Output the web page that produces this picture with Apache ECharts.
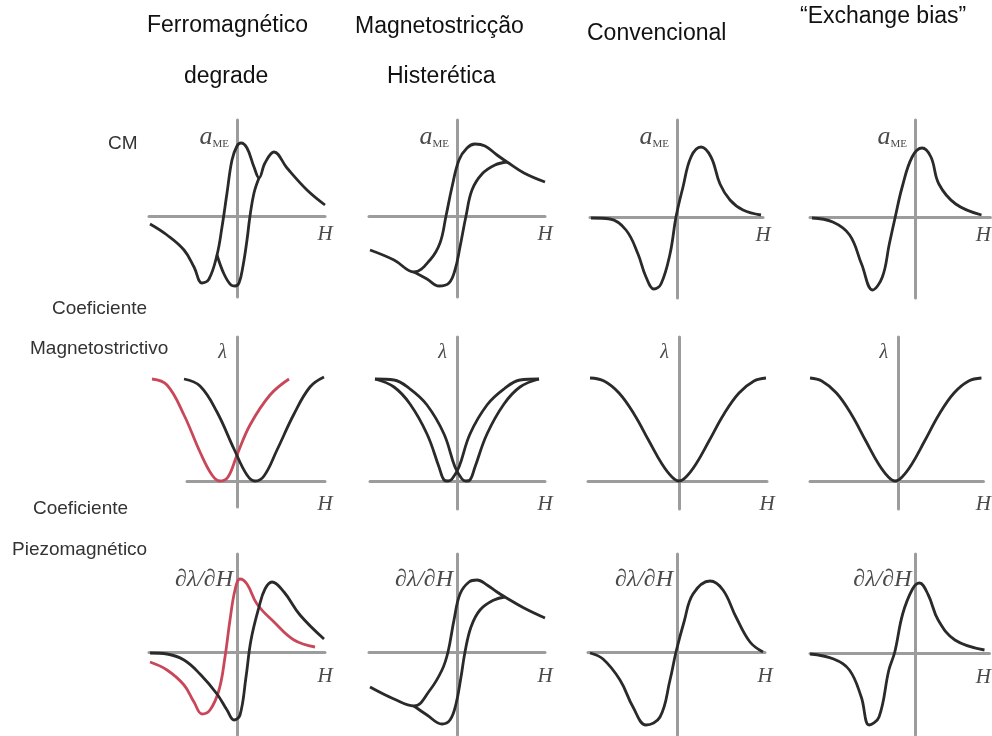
<!DOCTYPE html>
<html><head><meta charset="utf-8">
<script src="https://cdn.jsdelivr.net/npm/echarts@6/dist/echarts.min.js"></script>
<style>html,body{margin:0;background:#fff}#c{width:992px;height:736px}</style>
</head><body><div id="c"></div>
<script>
// ---------- text ----------
const colTitles = ['Ferromagnético', 'Magnetostricção', 'Convencional', '“Exchange bias”'];
const colSubtitles = ['degrade', 'Histerética'];
const rowLabels = ['CM', 'Coeficiente', 'Magnetostrictivo', 'Coeficiente', 'Piezomagnético'];
const rowAxisNames = ['aME', 'λ', '∂λ/∂H'];
const hAxisName = 'H';

// ---------- curves (H, response) ----------
// Row 1: CM coefficient a_ME
const cmFerroUpper = [[-87,-8],[-70,-19],[-53,-34],[-43,-51],[-35,-67],[-28,-63],[-20,-39],[-15,-11],[-10,23],[-5,56],[0,70],[4,73],[10,68],[17,49],[22,38],[28,53],[37,64],[50,48],[70,26],[88,11]];
const cmFerroLower = [[-20,-39],[-13,-58],[-6,-69],[-2,-70],[2,-67],[6,-50],[10,-24],[13,0],[17,23],[22,38]];
const cmHystUpper = [[-87,-34],[-63,-44],[-43,-56],[-27,-44],[-17,-27],[-11,0],[-5,29],[2,56],[10,68],[18,72],[28,70],[40,61],[50,54],[67,43],[88,34]];
const cmHystLower = [[-43,-56],[-30,-63],[-18,-70],[-8,-67],[-2,-54],[3,-31],[9,0],[15,26],[25,42],[38,51],[50,54]];
const cmConv = [[-86,-1],[-67,-2],[-51,-13],[-39,-37],[-31,-60],[-23,-72],[-16,-67],[-7,-37],[-1,0],[6,30],[14,60],[24,70],[34,60],[43,33],[53,17],[66,7],[84,2]];
const cmExch = [[-104,-1],[-83,-5],[-66,-18],[-54,-47],[-43,-73],[-33,-60],[-26,-27],[-20,0],[-13,30],[-3,60],[7,69],[16,60],[24,33],[41,13],[67,2]];
// Row 2: magnetostriction lambda
const lamFerroRed = [[-85,102],[-70,96],[-53,66],[-37,29],[-25,6],[-17,0],[-9,4],[0,26],[13,56],[33,86],[52,102]];
const lamFerroBlack = [[-53,102],[-37,95],[-20,69],[-3,32],[10,6],[18,0],[27,5],[40,31],[57,67],[73,94],[87,104]];
const lamHystA = [[-82,102],[-63,94],[-47,77],[-30,47],[-18,14],[-13,1],[-9,0],[-5,2],[2,14],[13,47],[30,76],[47,92],[63,101],[82,102]];
const lamHystB = [[-82,102],[-63,101],[-47,92],[-30,76],[-13,47],[-2,14],[5,2],[9,0],[13,1],[18,14],[30,47],[47,77],[63,94],[82,102]];
const lamConv = [[-89,103],[-75,100],[-60,88],[-45,67],[-30,40],[-17,17],[-7,4],[0,0],[7,4],[17,17],[30,40],[45,67],[60,88],[75,100],[87,103]];
const lamExch = [[-90,103],[-78,100],[-63,88],[-48,67],[-33,40],[-20,17],[-10,4],[-3,0],[4,4],[14,17],[27,40],[42,67],[57,88],[72,100],[85,103]];
// Row 3: piezomagnetic coefficient dλ/dH
const pzFerroRed = [[-87,-10],[-70,-18],[-53,-33],[-43,-50],[-35,-62],[-27,-58],[-18,-38],[-12,-5],[-7,32],[-2,62],[3,73],[10,68],[20,48],[37,30],[57,12],[78,5]];
const pzFerroBlack = [[-87,-1],[-70,-2],[-53,-8],[-37,-22],[-20,-42],[-10,-58],[-3,-68],[3,-63],[9,-25],[14,12],[22,45],[28,63],[35,70],[47,60],[63,37],[87,13]];
const pzHystUpper = [[-87,-35],[-63,-47],[-43,-54],[-27,-38],[-15,-18],[-9,0],[-3,32],[3,58],[12,70],[20,72],[30,67],[40,60],[48,55],[67,44],[88,34]];
const pzHystLower = [[-43,-54],[-30,-63],[-15,-72],[-7,-68],[-1,-52],[4,-25],[8,0],[14,25],[23,42],[37,52],[48,55]];
const pzConv = [[-87,-1],[-74,-7],[-57,-28],[-44,-55],[-31,-73],[-17,-65],[-7,-28],[-1,0],[7,30],[16,58],[33,71],[46,62],[59,35],[73,10],[86,0]];
const pzExch = [[-107,-1],[-83,-6],[-67,-17],[-55,-44],[-47,-72],[-37,-64],[-27,-17],[-21,1],[-13,39],[-3,64],[4,70],[13,58],[23,33],[40,13],[70,3]];

// ---------- style / layout ----------
const INK = '#2a2a2a', RED = '#c8485a', AXIS = '#9c9c9c', LABEL = '#4a4a4a';
const SERIF = '"Liberation Serif","DejaVu Serif",serif';
const SANS = '"Liberation Sans",Arial,sans-serif';

// o = pixel position of origin, xr/yr = axis ranges; cxr = wider range for curves (axis line shorter)
const panels = [
  {row:0, o:[237,216], xr:[-88,88], yr:[-81,96], hGap:0, curves:[[cmFerroUpper,INK],[cmFerroLower,INK]]},
  {row:0, o:[457,216], xr:[-88,88], yr:[-81,96], hGap:0, curves:[[cmHystUpper,INK],[cmHystLower,INK]]},
  {row:0, o:[677,217], xr:[-87,86], yr:[-81,97], hGap:0, curves:[[cmConv,INK]]},
  {row:0, o:[916,217], xr:[-106,76], yr:[-81,97], hGap:-7, curves:[[cmExch,INK]]},
  {row:1, o:[237,481], xr:[-50,88], cxr:[-90,90], yr:[-26,144], hGap:0, curves:[[lamFerroRed,RED],[lamFerroBlack,INK]]},
  {row:1, o:[457,481], xr:[-87,88], yr:[-28,144], hGap:0, curves:[[lamHystA,INK],[lamHystB,INK]]},
  {row:1, o:[679,481], xr:[-91,88], yr:[-28,144], hGap:0, curves:[[lamConv,INK]]},
  {row:1, o:[900,481], xr:[-90,87], yr:[-28,144], hGap:0, curves:[[lamExch,INK]]},
  {row:2, o:[237,652], xr:[-88,88], yr:[-83,98], hGap:0, curves:[[pzFerroRed,RED],[pzFerroBlack,INK]]},
  {row:2, o:[457,652], xr:[-88,88], yr:[-83,98], hGap:0, curves:[[pzHystUpper,INK],[pzHystLower,INK]]},
  {row:2, o:[677,652], xr:[-89,88], yr:[-83,98], hGap:0, curves:[[pzConv,INK]]},
  {row:2, o:[917,653], xr:[-107,75], yr:[-82,99], hGap:-6, curves:[[pzExch,INK]]}
];
const hPad = [8, 13, 14];
const yNameCfg = [
  {gap:-4, padR:8},
  {gap:-6, padR:10},
  {gap:-14, padR:4}
];

const grid = [], xAxis = [], yAxis = [], series = [];
const hidden = {axisLine:{show:false}, axisTick:{show:false}, axisLabel:{show:false}, splitLine:{show:false}};
panels.forEach((p) => {
  const gi = grid.length;
  grid.push({left: p.o[0] + p.xr[0], top: p.o[1] - p.yr[1], width: p.xr[1] - p.xr[0], height: p.yr[1] - p.yr[0]});
  xAxis.push({
    type:'value', gridIndex:gi, min:p.xr[0], max:p.xr[1],
    axisLine:{onZero:true, lineStyle:{color:AXIS, width:3}},
    axisTick:{show:false}, axisLabel:{show:false}, splitLine:{show:false},
    name:hAxisName, nameLocation:'end', nameGap:p.hGap,
    nameTextStyle:{fontFamily:SERIF, fontStyle:'italic', fontSize:21, color:LABEL, align:'center', verticalAlign:'top', padding:[hPad[p.row],0,0,0]}
  });
  const yc = yNameCfg[p.row];
  let yName, yStyle;
  if (p.row === 0) {
    yName = '{a|' + rowAxisNames[0].charAt(0) + '}{s|' + rowAxisNames[0].slice(1) + '}';
    yStyle = {align:'right', verticalAlign:'top', padding:[0, yc.padR, 0, 0],
      rich:{a:{fontFamily:SERIF, fontStyle:'italic', fontSize:26, color:LABEL, verticalAlign:'bottom', lineHeight:26},
            s:{fontFamily:SERIF, fontSize:11, color:LABEL, verticalAlign:'bottom', lineHeight:19}}};
  } else {
    yName = rowAxisNames[p.row];
    yStyle = {fontFamily:SERIF, fontStyle:'italic', fontSize: p.row === 1 ? 20 : 24, color:LABEL, align:'right', verticalAlign:'top', padding:[0, yc.padR, 0, 0]};
  }
  yAxis.push({
    type:'value', gridIndex:gi, min:p.yr[0], max:p.yr[1],
    axisLine:{onZero:true, lineStyle:{color:AXIS, width:3}},
    axisTick:{show:false}, axisLabel:{show:false}, splitLine:{show:false},
    name:yName, nameLocation:'end', nameGap:yc.gap, nameTextStyle:yStyle
  });
  let ci = gi;
  if (p.cxr) {
    ci = grid.length;
    grid.push({left: p.o[0] + p.cxr[0], top: p.o[1] - p.yr[1], width: p.cxr[1] - p.cxr[0], height: p.yr[1] - p.yr[0]});
    xAxis.push(Object.assign({type:'value', gridIndex:ci, min:p.cxr[0], max:p.cxr[1]}, hidden));
    yAxis.push(Object.assign({type:'value', gridIndex:ci, min:p.yr[0], max:p.yr[1]}, hidden));
  }
  p.curves.forEach(([d, c]) => series.push({
    type:'line', xAxisIndex:ci, yAxisIndex:ci, data:d, smooth:0.4, showSymbol:false, clip:false,
    lineStyle:{color:c, width:2.8}, silent:true
  }));
});

// header & row-label positions
const titlePos = [[147,26],[355,27],[587,34],[800,17]];
const subPos = [[184,77],[387,77]];
const rowPos = [[108,144],[52,309],[30,349],[33,509],[12,550]];
const graphic = [];
colTitles.forEach((t, i) => graphic.push({type:'text', x:titlePos[i][0], y:titlePos[i][1],
  style:{text:t, font:'23px ' + SANS, fill:'#111', align:'left', verticalAlign:'middle'}}));
colSubtitles.forEach((t, i) => graphic.push({type:'text', x:subPos[i][0], y:subPos[i][1],
  style:{text:t, font:'23px ' + SANS, fill:'#111', align:'left', verticalAlign:'middle'}}));
rowLabels.forEach((t, i) => graphic.push({type:'text', x:rowPos[i][0], y:rowPos[i][1],
  style:{text:t, font:'19px ' + SANS, fill:'#333', align:'left', verticalAlign:'middle'}}));

const chart = echarts.init(document.getElementById('c'), null, {renderer:'canvas'});
chart.setOption({animation:false, backgroundColor:'#fff', grid, xAxis, yAxis, series, graphic});
</script>
</body></html>
